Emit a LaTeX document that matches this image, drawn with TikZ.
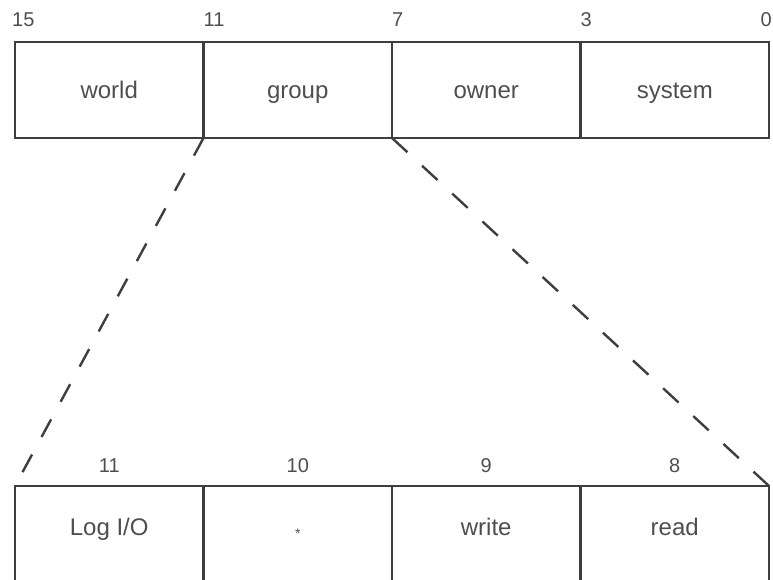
\documentclass[tikz,border=0pt]{standalone}
\usepackage{fontspec}
\setmainfont{Liberation Sans}
\usetikzlibrary{positioning}
\definecolor{inkgray}{RGB}{62,62,62}
\definecolor{textgray}{RGB}{78,78,78}

\begin{document}
\begin{tikzpicture}[
    x=1pt, y=1pt,
    field/.style={rectangle, draw=inkgray, line width=2.4pt, minimum width=188.5pt, minimum height=96pt, outer sep=0pt, inner sep=0pt, text=textgray, font=\fontsize{24}{28}\selectfont, text height=17pt, text depth=0pt},
    subfield/.style={field, minimum height=95pt, text depth=14pt},
    bitnum/.style={inner sep=0pt, text=textgray, font=\fontsize{20}{24}\selectfont},
    zoomline/.style={draw=inkgray, line width=2.4pt}
]
\useasboundingbox (0,0) rectangle (773,579);

% Protection word
\node[field, anchor=north west] (world) at (15,537) {world};
\node[field, right=0pt of world] (group) {group};
\node[field, right=0pt of group] (owner) {owner};
\node[field, right=0pt of owner] (system) {system};

% Bit positions
\node[bitnum, above right=15pt and -3pt of world.north west] (b15) {15};
\node[bitnum, above right=15pt and 0pt of group.north west] (b11) {11};
\node[bitnum, above right=15pt and 0pt of owner.north west] (b7) {7};
\node[bitnum, above right=15pt and 0pt of system.north west] (b3) {3};
\node[bitnum, above left=15pt and -3pt of system.north east] (b0) {0};

% Group field expanded
\node[subfield, anchor=north west] (logio) at (15,93) {Log I/O};
\node[subfield, right=0pt of logio] (spare) {{\fontsize{14}{16}\selectfont\raisebox{-3pt}{*}}};
\node[subfield, right=0pt of spare] (write) {write};
\node[subfield, right=0pt of write] (read) {read};

\node[bitnum, above=13pt of logio] (g11) {11};
\node[bitnum, above=13pt of spare] (g10) {10};
\node[bitnum, above=13pt of write] (g9) {9};
\node[bitnum, above=13pt of read] (g8) {8};

% Zoom lines
\draw[zoomline, dash pattern=on 20pt off 20pt] (group.south west) -- (logio.north west);
\draw[zoomline, dash pattern=on 21pt off 20pt] (owner.south west) -- (read.north east);

\end{tikzpicture}
\end{document}
